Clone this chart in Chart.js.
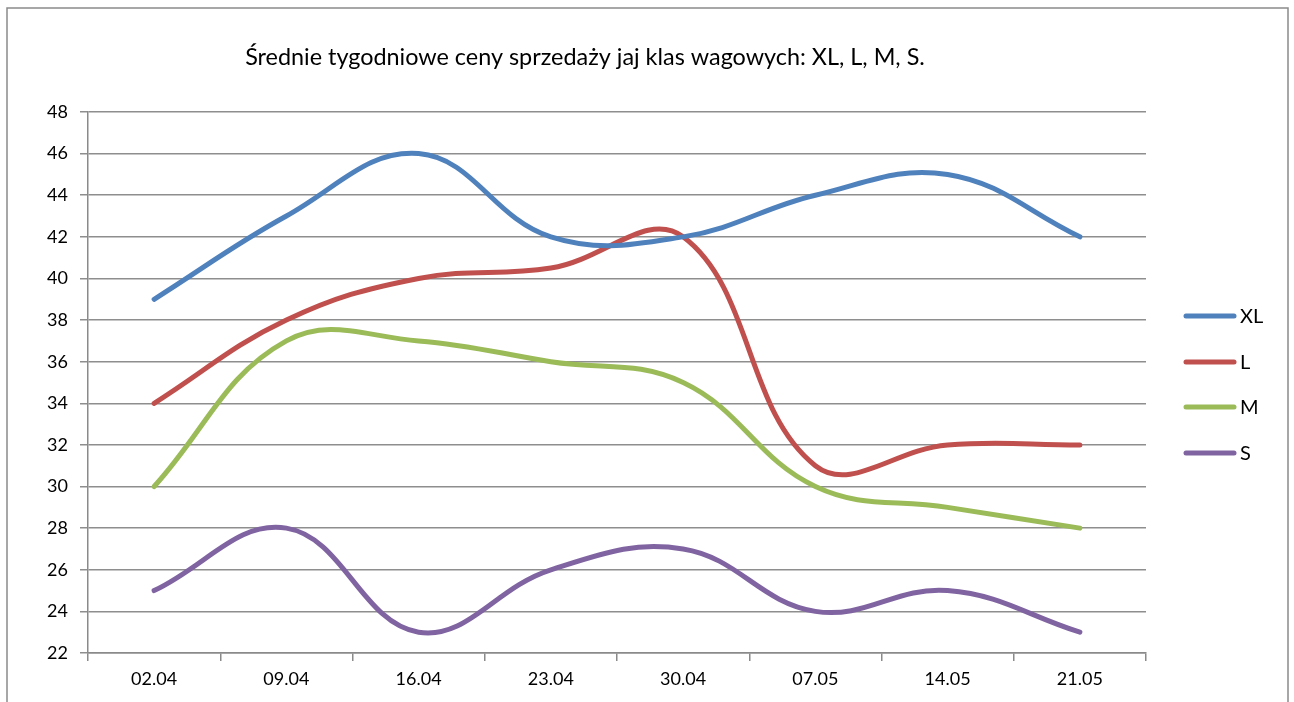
<!DOCTYPE html>
<html>
<head>
<meta charset="utf-8">
<script src="https://cdn.jsdelivr.net/npm/chart.js@4.4.1/dist/chart.umd.min.js"></script>
<style>
  html, body { margin: 0; padding: 0; background: #fff; }
  #wrap { width: 1294px; height: 702px; position: relative; }
</style>
</head>
<body>
<div id="wrap"><canvas id="myLineChart" width="1294" height="702"></canvas></div>
<script>
var chartTitle = 'Średnie tygodniowe ceny sprzedaży jaj klas wagowych: XL, L, M, S.';
var labels_p = ['02.04', '09.04', '16.04', '23.04', '30.04', '07.05', '14.05', '21.05'];
var seriesNames = ['XL', 'L', 'M', 'S'];
var dataXL = [39, 43, 46, 42, 42, 44, 45, 42];
var dataL = [34, 38, 40, 40.5, 42, 31, 32, 32];
var dataM = [30, 37, 37, 36, 35, 30, 29, 28];
var dataS = [25, 28, 23, 26, 27, 24, 25, 23];
var yMin = 22, yMax = 48, yStep = 2;

var colors = ['#4F81BD', '#C0504D', '#9BBB59', '#8064A2'];
var fontName = 'Lato, "Open Sans", sans-serif';

// frame, title and legend drawn on top of the chart
var extras = {
    id: 'extras',
    afterDraw: function (chart) {
        var ctx = chart.ctx;
        ctx.save();
        ctx.strokeStyle = '#8a8a8a';
        ctx.lineWidth = 1.5;
        ctx.strokeRect(7, 8, 1281, 720);

        ctx.fillStyle = '#000';
        // title should span about 680px like the original
        var size = 20;
        ctx.font = size + 'px ' + fontName;
        var w = ctx.measureText(chartTitle).width;
        size = size * 680 / w;
        ctx.font = size.toFixed(1) + 'px ' + fontName;
        ctx.textAlign = 'center';
        ctx.textBaseline = 'middle';
        ctx.fillText(chartTitle, 585, 57);

        var rowsY = [316, 362, 407, 453];
        ctx.textAlign = 'left';
        ctx.font = '20px ' + fontName;
        chart.data.datasets.forEach(function (ds, i) {
            ctx.strokeStyle = ds.borderColor;
            ctx.lineWidth = 5;
            ctx.lineCap = 'round';
            ctx.beginPath();
            ctx.moveTo(1186, rowsY[i]);
            ctx.lineTo(1234, rowsY[i]);
            ctx.stroke();
            ctx.fillStyle = '#000';
            ctx.fillText(ds.label, 1240, rowsY[i] + 1);
        });
        ctx.restore();
    }
};

function makeSet(name, values, color) {
    return {
        label: name,
        data: values,
        borderColor: color,
        backgroundColor: color,
        borderWidth: 5,
        borderCapStyle: 'round',
        borderJoinStyle: 'round',
        pointRadius: 0,
        pointHoverRadius: 0,
        tension: 0.4,
        fill: false
    };
}

var dataSet = [
    makeSet(seriesNames[0], dataXL, colors[0]),
    makeSet(seriesNames[1], dataL, colors[1]),
    makeSet(seriesNames[2], dataM, colors[2]),
    makeSet(seriesNames[3], dataS, colors[3])
];

const ctx = document.getElementById('myLineChart').getContext('2d');
window.line = new Chart(ctx, {
    type: 'line',
    data: {
        labels: labels_p,
        datasets: dataSet
    },
    options: {
        responsive: false,
        animation: false,
        layout: {
            padding: { left: 0, right: 148, top: 112, bottom: 0 }
        },
        plugins: {
            legend: { display: false },
            title: { display: false },
            tooltip: { enabled: false }
        },
        scales: {
            x: {
                offset: true,
                grid: {
                    offset: true,
                    drawOnChartArea: false,
                    drawTicks: true,
                    tickLength: 8,
                    color: '#8a8a8a',
                    lineWidth: 1.5
                },
                border: { color: '#8a8a8a', width: 1.5 },
                ticks: {
                    color: '#000',
                    padding: 7,
                    font: { family: fontName, size: 18 },
                    maxRotation: 0
                },
                afterFit: function (scale) { scale.height = 49; }
            },
            y: {
                min: yMin,
                max: yMax,
                grid: {
                    color: '#8e8e8e',
                    lineWidth: 1.5,
                    tickLength: 8
                },
                border: { color: '#8a8a8a', width: 1.5 },
                ticks: {
                    stepSize: yStep,
                    color: '#000',
                    padding: 12,
                    font: { family: fontName, size: 18 }
                },
                afterFit: function (scale) { scale.width = 88; }
            }
        }
    },
    plugins: [extras]
});
</script>
</body>
</html>
